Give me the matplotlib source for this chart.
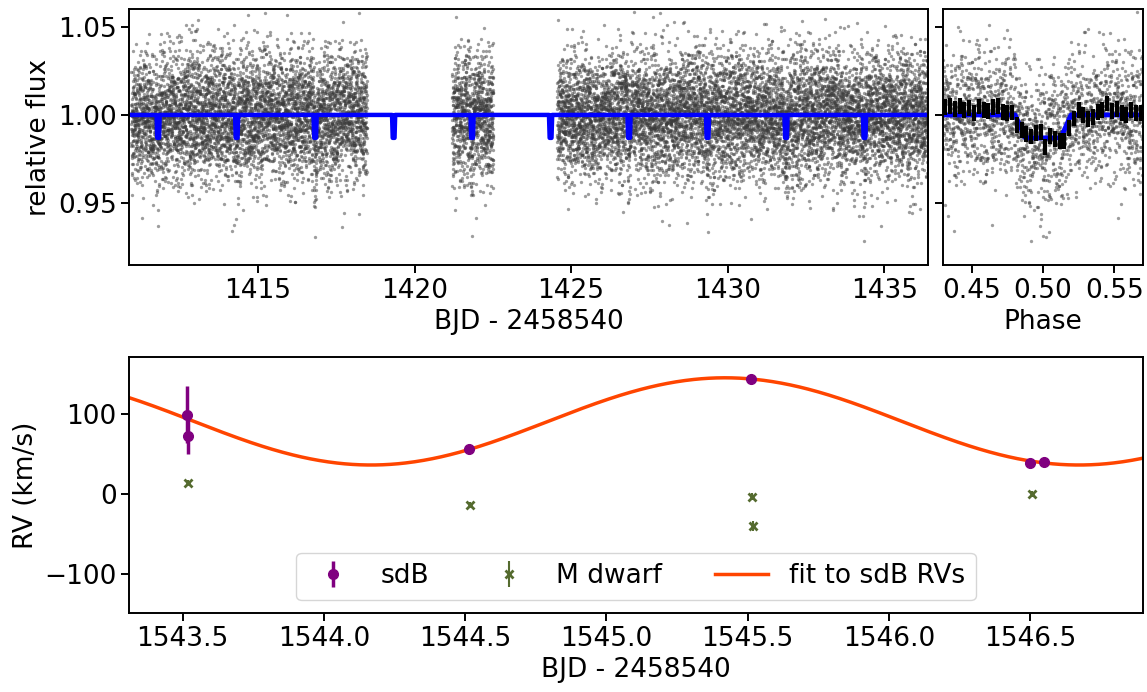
import numpy as np
import matplotlib
matplotlib.use("Agg")
import matplotlib.pyplot as plt

plt.rcParams['font.family'] = ['DejaVu Sans']
plt.rcParams['font.size'] = 19
plt.rcParams['axes.linewidth'] = 1.4
plt.rcParams['xtick.major.size'] = 5.5
plt.rcParams['ytick.major.size'] = 5.5
plt.rcParams['xtick.major.width'] = 1.4
plt.rcParams['ytick.major.width'] = 1.4

# --- transit ephemeris / model ---
t0 = 1411.81          # first dip
period = 2.5067       # days between dips
depth = 0.013
dur_phase = 0.039     # total duration (phase units)
ingress_phase = 0.007

# observed segments of the light curve (BJD - 2458540)
seg_start = [1410.95, 1421.20, 1424.55]
seg_end = [1418.48, 1422.52, 1436.40]
cadence = 2.0 / 1440.0
flux_sigma = 0.018

# binned phase-folded points (black)
bin_phase = np.linspace(0.4317, 0.5683, 42)
bin_flux = [1.0045, 1.0052, 1.0036, 1.0049, 1.0027, 1.0041, 1.0010, 1.0048,
            1.0030, 1.0020, 1.0045, 1.0050, 1.0018, 1.0012, 1.0014,
            0.9945, 0.9915, 0.9890, 0.9878, 0.9900, 0.9905, 0.9820, 0.9880,
            0.9865, 0.9850, 0.9850, 0.9925, 0.9980, 1.0030, 1.0000, 0.9975,
            0.9990, 1.0015, 1.0030, 1.0065, 1.0020, 1.0035, 1.0010, 1.0000,
            1.0030, 1.0010, 1.0010]
bin_err = 0.0045

# --- radial velocities ---
sdb_t = [1543.514, 1543.519, 1544.515, 1545.512, 1546.500, 1546.550]
sdb_rv = [99.0, 72.0, 55.7, 143.7, 38.7, 39.5]
sdb_err = [36.0, 22.0, 2.0, 2.0, 2.0, 2.0]

md_t = [1543.519, 1544.516, 1545.514, 1545.519, 1546.506]
md_rv = [14.0, -13.8, -3.4, -40.5, 0.0]
md_err = [3.0, 3.0, 4.0, 6.0, 4.0]

# sine fit to the sdB RVs
rv_gamma = 90.5
rv_K = 54.5
rv_tmax = 1545.42
rv_period = 2.5067


def transit_model(phase):
    # trapezoid centred on phase 0.5
    d = np.abs(phase - 0.5)
    half = dur_phase / 2
    f = np.ones_like(phase)
    full = d <= half - ingress_phase
    f[full] = 1 - depth
    edge = (d > half - ingress_phase) & (d < half)
    f[edge] = 1 - depth * (half - d[edge]) / ingress_phase
    return f


def to_phase(t):
    return ((np.asarray(t) - t0) / period + 0.5) % 1.0


# light curve: model plus photometric scatter (individual points can't be read)
t_obs = np.concatenate([np.arange(a, b, cadence) for a, b in zip(seg_start, seg_end)])
gen = np.random.default_rng(7)
f_obs = transit_model(to_phase(t_obs)) + gen.normal(0, flux_sigma, t_obs.size)

t_mod = np.arange(1410.88, 1436.41, 0.0004)
f_mod = transit_model(to_phase(t_mod))

fig = plt.figure(figsize=(11.47, 6.92), dpi=100)
ax1 = fig.add_axes([129 / 1147, 1 - 265 / 692, 799 / 1147, 256 / 692])
ax2 = fig.add_axes([943 / 1147, 1 - 265 / 692, 200 / 1147, 256 / 692], sharey=ax1)
ax3 = fig.add_axes([129 / 1147, 1 - 613 / 692, 1014 / 1147, 256 / 692])

pt_style = dict(ls='none', marker='o', ms=2.4, mew=0, color='#3c3c3c', alpha=0.5)

ax1.plot(t_obs, f_obs, **pt_style)
ax1.plot(t_mod, f_mod, color='blue', lw=3.2)
ax1.set_xlim(1410.88, 1436.40)
ax1.set_ylim(0.915, 1.06)
ax1.set_yticks([0.95, 1.00, 1.05])
ax1.set_xticks([1415, 1420, 1425, 1430, 1435])
ax1.set_xlabel('BJD - 2458540')
ax1.set_ylabel('relative flux')

ph_obs = to_phase(t_obs)
sel = (ph_obs > 0.43) & (ph_obs < 0.57)
ax2.plot(ph_obs[sel], f_obs[sel], **pt_style)
ph_mod = np.linspace(0.43, 0.57, 2000)
ax2.plot(ph_mod, transit_model(ph_mod), color='blue', lw=3.5)
ax2.errorbar(bin_phase, bin_flux, yerr=bin_err, fmt='none', ecolor='k', elinewidth=3)
ax2.set_xlim(0.43, 0.57)
ax2.set_xticks([0.45, 0.50, 0.55])
ax2.set_xlabel('Phase')
ax2.tick_params(axis='y', labelleft=False)

t_fit = np.linspace(1543.31, 1546.90, 800)
rv_fit = rv_gamma + rv_K * np.cos(2 * np.pi * (t_fit - rv_tmax) / rv_period)

h_fit, = ax3.plot(t_fit, rv_fit, color='orangered', lw=2.5)
h_sdb = ax3.errorbar(sdb_t, sdb_rv, yerr=sdb_err, fmt='o', color='purple',
                     ms=7, elinewidth=2.5)
h_md = ax3.errorbar(md_t, md_rv, yerr=md_err, fmt='x', color='darkolivegreen',
                    ms=5.5, mew=2, elinewidth=1.5)
ax3.set_xlim(1543.31, 1546.90)
ax3.set_ylim(-149, 171)
ax3.set_yticks([-100, 0, 100])
ax3.set_xlabel('BJD - 2458540')
ax3.set_ylabel('RV (km/s)')
ax3.legend([h_sdb, h_md, h_fit], ['sdB', 'M dwarf', 'fit to sdB RVs'],
           loc='lower center', ncol=3)

fig.savefig('out.png', dpi=100)
